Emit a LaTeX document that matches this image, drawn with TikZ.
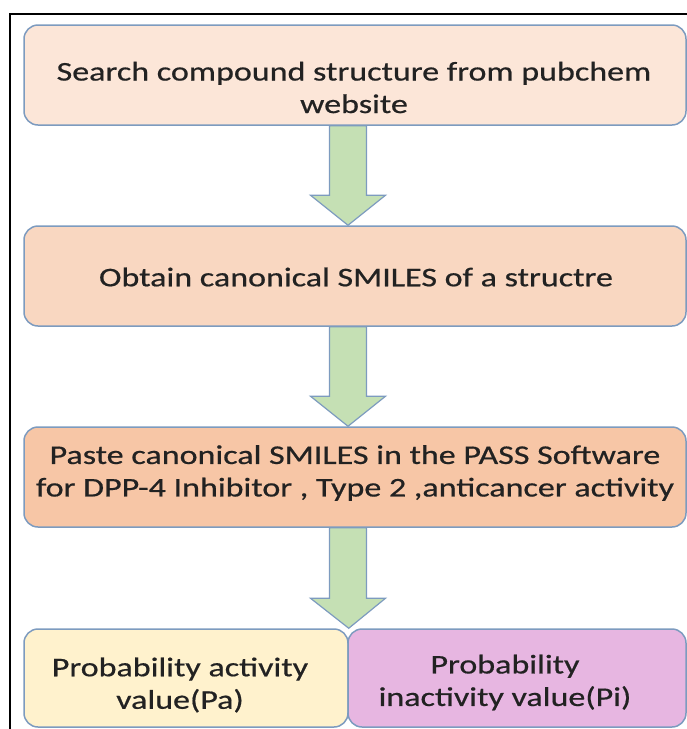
\documentclass[tikz,border=0pt]{standalone}
\usepackage{fontspec}
\setmainfont{Carlito}[FakeStretch=1.26,FakeBold=0.6]
\usetikzlibrary{calc}
\pgfdeclarelayer{bg}
\pgfsetlayers{bg,main}
\definecolor{bord}{HTML}{7D9BBF}
\definecolor{cone}{HTML}{FCE6D8}
\definecolor{ctwo}{HTML}{F9D7C1}
\definecolor{cthree}{HTML}{F7C6A6}
\definecolor{cyel}{HTML}{FFF2CD}
\definecolor{cpink}{HTML}{E7B6E1}
\definecolor{agreen}{HTML}{C5E0B4}
\definecolor{tcol}{HTML}{222222}
\newcommand\greenarrow[2]{%
  \draw[garrow] let \p1=(#1), \p2=(#2) in
    (\x1-18.5pt,\y1) -- (\x1+18.5pt,\y1) -- (\x1+18.5pt,\y2+30pt) --
    (\x1+37.5pt,\y2+30pt) -- (\x2,\y2) -- (\x1-37.5pt,\y2+30pt) --
    (\x1-18.5pt,\y2+30pt) -- cycle;}
\begin{document}
\begin{tikzpicture}[x=1pt,y=-1pt,
  box/.style={draw=bord, line width=1.5pt, rounded corners=14pt, inner sep=0pt},
  txt/.style={align=center, font=\fontsize{27}{32.5}\selectfont, text=tcol, inner sep=0pt},
  garrow/.style={draw=bord, line width=1.2pt, fill=agreen, line join=miter}]
\useasboundingbox (0,0) rectangle (687,729);
\clip (0,0) rectangle (687,729);
\draw[line width=2pt] (10,760) -- (10,14) -- (720,14);
\coordinate (ax) at (348,0);
\node[box, fill=cone, minimum width=662pt, minimum height=100pt] (b1) at (355,75) {};
\node[box, fill=ctwo, minimum width=662pt, minimum height=100pt] (b2) at (355,276) {};
\node[box, fill=cthree, minimum width=662pt, minimum height=100pt] (b3) at (355,477) {};
\node[box, fill=cyel, minimum width=324pt, minimum height=98pt] (b4l) at (186,678) {};
\node[box, fill=cpink, minimum width=338pt, minimum height=98pt] (b4r) at (517,678) {};
\node[txt] (t1) at (354,87.5) {Search compound structure from pubchem\\website};
\node[txt] (t2) at (356,277) {Obtain canonical SMILES of a structre};
\node[txt] (t3) at (355,473) {Paste canonical SMILES in the PASS Software\\for DPP-4 Inhibitor , Type 2 ,anticancer activity};
\node[txt] (t4l) at (180,685) {Probability activity\\value(Pa)};
\node[txt] (t4r) at (505,682.5) {Probability\\inactivity value(Pi)};
\begin{pgfonlayer}{bg}
\greenarrow{b1.south -| ax}{b2.north -| ax}
\greenarrow{b2.south -| ax}{b3.north -| ax}
\greenarrow{b3.south -| ax}{b4l.north east}
\end{pgfonlayer}
\end{tikzpicture}
\end{document}
